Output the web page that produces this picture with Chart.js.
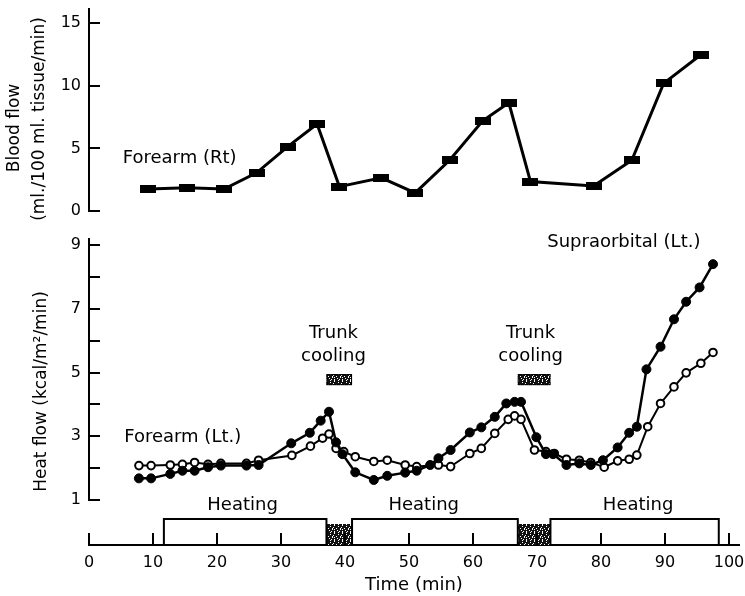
<!DOCTYPE html>
<html>
<head>
<meta charset="utf-8">
<script src="https://cdn.jsdelivr.net/npm/chart.js@4.4.1/dist/chart.umd.min.js"></script>
<style>
    html, body { margin: 0; padding: 0; background: #fff; }
    #wrap { position: relative; width: 745px; height: 596px; }
    #topBox { position: absolute; left: 0; top: 0; width: 745px; height: 230px; }
    #botBox { position: absolute; left: 0; top: 230px; width: 745px; height: 366px; }
</style>
</head>
<body>
<div id="wrap">
    <div id="topBox"><canvas id="topChart"></canvas></div>
    <div id="botBox"><canvas id="botChart"></canvas></div>
</div>
<script>
// blood flow, forearm (Rt)
const bloodTime = [9.3, 15.4, 21.2, 26.3, 31.2, 35.8, 39.3, 45.9, 51.2, 56.6, 61.8, 65.9, 69.3, 79.2, 85.2, 90.2, 96.1];
const bloodFlow = [1.75, 1.85, 1.75, 3.05, 5.15, 6.95, 1.95, 2.65, 1.45, 4.05, 7.2, 8.65, 2.35, 2.0, 4.05, 10.2, 12.5];

// heat flow, supraorbital (filled)
const supraTime = [7.8, 9.7, 12.7, 14.6, 16.5, 18.6, 20.6, 24.6, 26.5, 31.6, 34.5, 36.2, 37.5, 38.6, 39.6,
    41.6, 44.5, 46.6, 49.4, 51.2, 53.3, 54.6, 56.5, 59.5, 61.3, 63.4, 65.2, 66.5, 67.5, 69.9,
    71.4, 72.5, 74.6, 76.6, 78.4, 80.3, 82.6, 84.4, 85.6, 87.1, 89.3, 91.4, 93.3, 95.4, 97.5];
const supraFlow = [1.68, 1.68, 1.82, 1.92, 1.92, 2.03, 2.08, 2.08, 2.1, 2.78, 3.11, 3.49, 3.77, 2.81, 2.44,
    1.87, 1.63, 1.76, 1.86, 1.92, 2.1, 2.31, 2.57, 3.12, 3.28, 3.61, 4.03, 4.08, 4.08, 2.97,
    2.44, 2.44, 2.1, 2.15, 2.1, 2.25, 2.65, 3.11, 3.3, 5.1, 5.81, 6.67, 7.22, 7.67, 8.4];

// heat flow, forearm (open)
const foreTime = [7.8, 9.7, 12.7, 14.6, 16.5, 18.6, 20.6, 24.6, 26.5, 31.7, 34.6, 36.5, 37.5, 38.6, 39.8,
    41.6, 44.5, 46.6, 49.4, 51.2, 54.6, 56.5, 59.5, 61.3, 63.4, 65.5, 66.5, 67.5, 69.6, 71.4,
    72.7, 74.6, 76.6, 78.4, 80.5, 82.6, 84.4, 85.6, 87.3, 89.3, 91.4, 93.3, 95.6, 97.5];
const foreFlow = [2.08, 2.08, 2.1, 2.12, 2.18, 2.12, 2.15, 2.15, 2.25, 2.4, 2.69, 2.94, 3.07, 2.62, 2.52,
    2.36, 2.21, 2.25, 2.1, 2.05, 2.1, 2.05, 2.46, 2.62, 3.09, 3.53, 3.64, 3.53, 2.57, 2.52,
    2.46, 2.28, 2.25, 2.18, 2.03, 2.23, 2.28, 2.41, 3.3, 4.03, 4.55, 4.99, 5.29, 5.63];

// periods (min)
const heatStart = [11.7, 41.1, 72.1];
const heatEnd = [37.1, 67.0, 98.4];
const coolStart = [37.1, 67.0];
const coolEnd = [41.1, 72.1];

// ticks
const timeTicks = [0, 10, 20, 30, 40, 50, 60, 70, 80, 90, 100];
const bloodTicks = [0, 5, 10, 15];
const heatTicks = [1, 2, 3, 4, 5, 6, 7, 8, 9];
const heatLabels = [1, 3, 5, 7, 9];

const xMax = 101.56;
const font = 'DejaVu Sans';
Chart.defaults.font.family = font;
Chart.defaults.color = '#000';

function setTicks(list) {
    return s => { s.ticks = list.map(v => ({ value: v })); };
}
function pairs(xs, ys) {
    return xs.map((t, i) => ({ x: t, y: ys[i] }));
}
// fixed axis box, no extra room for half labels
function fixWidth(s) {
    s.width = 89;
    s.paddingTop = 0;
    s.paddingBottom = 0;
}

function stipple(ctx) {
    const rows = ['##.#####', '#####.##', '.###.###', '####.#.#', '#.######', '###.##.#', '##.###.#', '######.#'];
    const c = document.createElement('canvas');
    c.width = 8; c.height = 8;
    const g = c.getContext('2d');
    g.fillStyle = '#fff';
    g.fillRect(0, 0, 8, 8);
    g.fillStyle = '#111';
    rows.forEach((r, y) => r.split('').forEach((ch, x) => { if (ch === '#') g.fillRect(x, y, 1, 1); }));
    return ctx.createPattern(c, 'repeat');
}

const blockMark = document.createElement('canvas');
blockMark.width = 16;
blockMark.height = 8;
blockMark.getContext('2d').fillRect(0, 0, 16, 8);

const inwardTicks = {
    id: 'inwardTicks',
    afterDraw(chart) {
        const { ctx, chartArea: a, scales: { x, y } } = chart;
        ctx.save();
        ctx.strokeStyle = '#000';
        ctx.lineWidth = 2;
        ctx.beginPath();
        y.ticks.forEach(t => {
            const py = Math.round(y.getPixelForValue(t.value));
            ctx.moveTo(a.left, py);
            ctx.lineTo(a.left + 11, py);
        });
        if (x.options.display) {
            x.ticks.forEach(t => {
                const px = Math.round(x.getPixelForValue(t.value));
                ctx.moveTo(px, a.bottom);
                ctx.lineTo(px, a.bottom - 12);
            });
            // y axis line stops at the lowest tick
            ctx.moveTo(a.left, a.top);
            ctx.lineTo(a.left, y.getPixelForValue(heatTicks[0]) + 1);
        }
        ctx.stroke();
        ctx.restore();
    }
};

function label(ctx, text, px, py, align) {
    ctx.textAlign = align;
    ctx.fillText(text, px, py);
}

function sideways(ctx, text, px, py) {
    ctx.save();
    ctx.translate(px, py);
    ctx.rotate(-Math.PI / 2);
    ctx.textAlign = 'center';
    ctx.fillText(text, 0, 0);
    ctx.restore();
}

const topNotes = {
    id: 'topNotes',
    afterDraw(chart) {
        const { ctx, scales: { x, y } } = chart;
        ctx.save();
        ctx.font = '18px ' + font;
        ctx.fillStyle = '#000';
        ctx.textBaseline = 'middle';
        label(ctx, 'Forearm (Rt)', x.getPixelForValue(5.3), y.getPixelForValue(4.2), 'left');
        // y axis title, two lines
        ctx.font = '17px ' + font;
        sideways(ctx, 'Blood flow', 15, 128);
        sideways(ctx, '(ml./100 ml. tissue/min)', 40, 119);
        ctx.restore();
    }
};

const botNotes = {
    id: 'botNotes',
    beforeDatasetsDraw(chart) {
        const { ctx, chartArea: a, scales: { x } } = chart;
        const pat = stipple(ctx);
        ctx.save();
        ctx.fillStyle = pat;
        coolStart.forEach((s, i) => {
            const x1 = x.getPixelForValue(s), x2 = x.getPixelForValue(coolEnd[i]);
            ctx.fillRect(x1, a.bottom - 21, x2 - x1, 21);
        });
        ctx.strokeStyle = '#000';
        ctx.lineWidth = 2;
        heatStart.forEach((s, i) => {
            const x1 = x.getPixelForValue(s), x2 = x.getPixelForValue(heatEnd[i]);
            ctx.beginPath();
            ctx.moveTo(x1, a.bottom);
            ctx.lineTo(x1, a.bottom - 26);
            ctx.lineTo(x2, a.bottom - 26);
            ctx.lineTo(x2, a.bottom);
            ctx.stroke();
        });
        ctx.restore();
    },
    afterDraw(chart) {
        const { ctx, scales: { x, y } } = chart;
        const pat = stipple(ctx);
        ctx.save();
        ctx.font = '18px ' + font;
        ctx.fillStyle = '#000';
        ctx.textBaseline = 'middle';
        label(ctx, 'Forearm (Lt.)', x.getPixelForValue(5.5), y.getPixelForValue(2.98), 'left');
        label(ctx, 'Supraorbital (Lt.)', x.getPixelForValue(71.6), y.getPixelForValue(9.09), 'left');
        [38.2, 69.0].forEach(t => {
            label(ctx, 'Trunk', x.getPixelForValue(t), y.getPixelForValue(6.24), 'center');
            label(ctx, 'cooling', x.getPixelForValue(t), y.getPixelForValue(5.52), 'center');
        });
        [24.0, 52.3, 85.8].forEach(t => label(ctx, 'Heating', x.getPixelForValue(t), y.getPixelForValue(0.84), 'center'));
        // small stippled cooling markers under the labels
        coolStart.forEach((s, i) => {
            const x1 = x.getPixelForValue(s), x2 = x.getPixelForValue(coolEnd[i]);
            const y1 = y.getPixelForValue(4.95);
            ctx.fillStyle = pat;
            ctx.fillRect(x1, y1, x2 - x1, 11);
            ctx.strokeStyle = '#000';
            ctx.lineWidth = 1;
            ctx.strokeRect(x1 + 0.5, y1 + 0.5, x2 - x1 - 1, 10);
        });
        ctx.restore();
    }
};

const common = {
    responsive: true,
    maintainAspectRatio: false,
    animation: false,
    plugins: { legend: { display: false }, tooltip: { enabled: false } }
};

const titleFont = { family: font, size: 17, lineHeight: 1.45 };
const tickFont = { family: font, size: 16 };

new Chart(document.getElementById('topChart'), {
    type: 'line',
    data: {
        datasets: [{
            data: pairs(bloodTime, bloodFlow),
            borderColor: '#000',
            borderWidth: 3,
            pointStyle: blockMark,
            pointRadius: 6,
            tension: 0
        }]
    },
    options: {
        ...common,
        layout: { padding: { top: 8, bottom: 19, left: 0, right: 5 } },
        scales: {
            x: { type: 'linear', min: 0, max: xMax, display: false },
            y: {
                min: 0, max: 16.14,
                afterBuildTicks: setTicks(bloodTicks),
                afterFit: fixWidth,
                grid: { display: false, drawTicks: false },
                border: { display: true, color: '#000', width: 2 },
                ticks: { padding: 8, font: tickFont, color: '#000' },
                title: { display: false }
            }
        }
    },
    plugins: [inwardTicks, topNotes]
});

new Chart(document.getElementById('botChart'), {
    type: 'line',
    data: {
        datasets: [{
            data: pairs(supraTime, supraFlow),
            borderColor: '#000',
            borderWidth: 2.5,
            backgroundColor: '#000',
            pointStyle: 'circle',
            pointRadius: 4.5,
            pointBorderWidth: 1,
            tension: 0
        }, {
            data: pairs(foreTime, foreFlow),
            borderColor: '#000',
            borderWidth: 2,
            backgroundColor: '#fff',
            pointStyle: 'circle',
            pointRadius: 3.8,
            pointBorderWidth: 2,
            tension: 0
        }]
    },
    options: {
        ...common,
        layout: { padding: { top: 8, bottom: 0, left: 0, right: 5 } },
        scales: {
            x: {
                type: 'linear', min: 0, max: xMax,
                afterBuildTicks: setTicks(timeTicks),
                afterFit: s => { s.height = 51; s.paddingLeft = 0; s.paddingRight = 0; },
                grid: { display: false, drawTicks: false },
                border: { display: true, color: '#000', width: 2 },
                ticks: { padding: 8, font: tickFont, color: '#000', maxRotation: 0, autoSkip: false },
                title: { display: true, text: 'Time (min)', font: { family: font, size: 18 }, color: '#000', padding: { top: 0, bottom: 0 } }
            },
            y: {
                min: -0.41, max: 9.22,
                afterBuildTicks: setTicks(heatTicks),
                afterFit: fixWidth,
                grid: { display: false, drawTicks: false },
                border: { display: false },
                ticks: {
                    padding: 8, font: tickFont, color: '#000',
                    callback: v => heatLabels.includes(v) ? String(v) : ''
                },
                title: {
                    display: true,
                    text: 'Heat flow (kcal/m²/min)',
                    font: titleFont,
                    color: '#000',
                    padding: { top: 29, bottom: 0 }
                }
            }
        }
    },
    plugins: [inwardTicks, botNotes]
});
</script>
</body>
</html>
